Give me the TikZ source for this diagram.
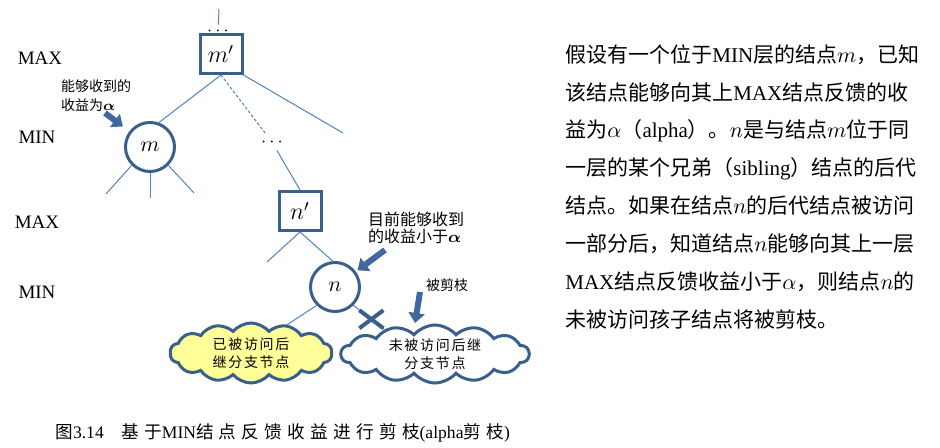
\documentclass[tikz,border=0pt]{standalone}
\usepackage{fontspec}
\usepackage{bm}
\setmainfont{Liberation Serif}
\newfontfamily\cjk{Noto Sans CJK SC}
\newfontfamily\cjkwide[LetterSpace=30]{Noto Sans CJK SC}
\newfontfamily\cjkpuff[LetterSpace=12]{Noto Sans CJK SC}
\usetikzlibrary{arrows.meta,positioning,shapes.symbols,shapes.misc}

\definecolor{nodeblue}{HTML}{3A5F8B}
\definecolor{edgeblue}{HTML}{4F81BD}
\definecolor{fatblue}{HTML}{41689E}
\definecolor{puffyellow}{HTML}{FFFF99}

\begin{document}
\begin{tikzpicture}[
    x=0.5pt, y=-0.5pt,
    maxbox/.style={draw=nodeblue, line width=1.5pt, minimum width=21pt, minimum height=19.5pt, inner sep=0pt, font=\fontsize{12}{14}\selectfont},
    minnode/.style={circle, draw=nodeblue, line width=1.5pt, minimum size=24.5pt, inner sep=0pt, font=\fontsize{11}{13}\selectfont},
    ln/.style={draw=edgeblue, line width=0.5pt},
    fat/.style={-{Triangle[length=5pt, width=8pt]}, draw=fatblue, line width=3pt},
    puff/.style={cloud, cloud puffs=14, cloud puff arc=100, cloud ignores aspect, draw=nodeblue, line width=1.5pt, inner sep=0pt},
    pufftext/.style={align=center, inner sep=0pt, font=\cjkpuff\fontsize{7}{8.8}\selectfont},
    lvl/.style={font=\fontsize{9.5}{11}\selectfont},
    note/.style={align=left, inner sep=0pt, font=\cjk\fontsize{7}{9.5}\selectfont},
    xmark/.style={cross out, draw=nodeblue, line width=2pt, minimum width=10pt, minimum height=7pt, inner sep=0pt},
    txt/.style={anchor=base west, inner sep=0pt, font=\fontsize{10.5}{12}\selectfont}
]
  \useasboundingbox (0,0) rectangle (940,448);

  % level labels
  \node[lvl] (lv1) at (40,58) {MAX};
  \node[lvl] (lv2) at (37,137) {MIN};
  \node[lvl] (lv3) at (37,222) {MAX};
  \node[lvl] (lv4) at (37,292) {MIN};

  % tree
  \node[maxbox] (mp) at (221,54) {$m'$};
  \node[minnode] (m) at (150,147) {$m$};
  \node[inner sep=1pt, font=\fontsize{9}{9}\selectfont] (dtop) at (218,31) {$\cdots$};
  \node[inner sep=2pt, font=\fontsize{9}{9}\selectfont] (dmid) at (272,142) {$\cdots$};
  \node[maxbox] (np) at (300,211) {$n'$};
  \node[minnode] (n) at (335,287) {$n$};
  \node[puff, fill=puffyellow, minimum width=81pt, minimum height=30pt,
        label={[pufftext]center:已被访问后\\继分支节点}] (seen) at (251,353) {};
  \node[puff, fill=white, minimum width=94pt, minimum height=29pt,
        label={[pufftext]center:未被访问后继\\分支节点}] (unseen) at (435,354) {};

  \coordinate (up) at (219,9);
  \coordinate (r1) at (343,133);
  \coordinate (c1) at (106,194);
  \coordinate (c2) at (150,198);
  \coordinate (c3) at (194,193);
  \coordinate (c4) at (267,262);

  \draw[ln] (up) -- (dtop);
  \draw[ln] (mp.south) -- (m.70);
  \draw[ln, dash pattern=on 1.5pt off 1pt] (mp.south) -- (dmid);
  \draw[ln] (mp.south east) -- (r1);
  \draw[ln] (m.225) -- (c1);
  \draw[ln] (m.south) -- (c2);
  \draw[ln] (m.-45) -- (c3);
  \draw[ln] (dmid) -- (np.north);
  \draw[ln] (np.south) -- (c4);
  \draw[ln] (np.south) -- (n.95);
  \draw[ln] (n.225) -- (seen.38);
  \draw[ln] (n.-45) -- node[xmark, pos=0.58] (cut) {} (unseen.154);

  % notes and fat arrows
  \node[note] (lab1) at (96,96) {能够收到的\\收益为$\bm{\alpha}$};
  \node[note, font=\cjk\fontsize{8}{8.5}\selectfont] (lab2) at (416,228) {目前能够收到\\的收益小于$\bm{\alpha}$};
  \node[note] (lab3) at (447,285) {被剪枝};

  \coordinate (t1) at (105,113);
  \coordinate (t2) at (385,250);
  \coordinate (t3) at (420,292);
  \coordinate (h3) at (415,323);
  \draw[fat, shorten >=4pt] (t1) -- (m);
  \draw[fat, shorten >=1pt] (t2) -- (n);
  \draw[fat] (t3) -- (h3);

  % text on the right
  \node[txt] (l1) at (565,63) {{\cjk 假设有一个位于}MIN{\cjk 层的结点}$m${\cjk ，已知}};
  \node[txt] (l2) at (565,101) {{\cjk 该结点能够向其上}MAX{\cjk 结点反馈的收}};
  \node[txt] (l3) at (565,138) {{\cjk 益为}$\alpha${\cjk （}alpha{\cjk ）。}$n${\cjk 是与结点}$m${\cjk 位于同}};
  \node[txt] (l4) at (565,176) {{\cjk 一层的某个兄弟（}sibling{\cjk ）结点的后代}};
  \node[txt] (l5) at (565,214) {{\cjk 结点。如果在结点}$n${\cjk 的后代结点被访问}};
  \node[txt] (l6) at (565,252) {{\cjk 一部分后，知道结点}$n${\cjk 能够向其上一层}};
  \node[txt] (l7) at (565,289) {MAX{\cjk 结点反馈收益小于}$\alpha${\cjk ，则结点}$n${\cjk 的}};
  \node[txt] (l8) at (565,327) {{\cjk 未被访问孩子结点将被剪枝。}};

  % caption
  \node[anchor=west, inner sep=0pt, font=\fontsize{8.8}{10}\selectfont] (cap) at (55,433)
    {{\cjkwide 图}3.14\quad{\cjkwide 基于}MIN{\cjkwide 结点反馈收益进行剪枝}(alpha{\cjkwide 剪枝})};
\end{tikzpicture}
\end{document}
